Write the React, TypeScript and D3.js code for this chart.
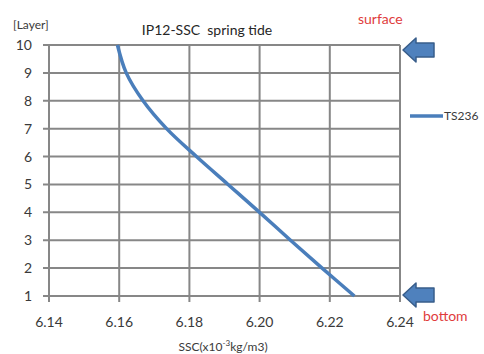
import React, { useEffect, useRef } from 'react';
import * as d3 from 'd3';

// layer 10 (surface) down to layer 1 (bottom)
const layers = [10, 9, 8, 7, 6, 5, 4, 3, 2, 1];
const sscValues = [6.1595, 6.162, 6.1668, 6.1735, 6.182, 6.191, 6.2, 6.2088, 6.2178, 6.227];
const xTicks = [6.14, 6.16, 6.18, 6.2, 6.22, 6.24];
const yTicks = [1, 2, 3, 4, 5, 6, 7, 8, 9, 10];
const seriesName = 'TS236';

const W = 484;
const H = 354;
const FONT = 'Lato, "Open Sans", sans-serif';

const App: React.FC = () => {
  const svgRef = useRef<SVGSVGElement>(null);

  useEffect(() => {
    if (!svgRef.current) return;
    const svg = d3.select(svgRef.current);
    svg.selectAll('*').remove();

    const margin = { left: 49, right: 84, top: 45, bottom: 58 };
    const innerW = W - margin.left - margin.right;
    const innerH = H - margin.top - margin.bottom;

    const x = d3.scaleLinear().domain([6.14, 6.24]).range([margin.left, margin.left + innerW]);
    const y = d3.scaleLinear().domain([1, 10]).range([margin.top + innerH, margin.top]);

    const gridColor = '#878787';
    const textColor = '#3a3a3a';

    // horizontal gridlines
    svg.append('g')
      .selectAll('line')
      .data(yTicks)
      .enter()
      .append('line')
      .attr('x1', x(6.14) - 6)
      .attr('x2', x(6.24))
      .attr('y1', d => y(d))
      .attr('y2', d => y(d))
      .attr('stroke', gridColor)
      .attr('stroke-width', 2);

    // vertical gridlines
    svg.append('g')
      .selectAll('line')
      .data(xTicks)
      .enter()
      .append('line')
      .attr('x1', d => x(d))
      .attr('x2', d => x(d))
      .attr('y1', y(10))
      .attr('y2', y(1) + 6)
      .attr('stroke', gridColor)
      .attr('stroke-width', 2);

    // y tick labels
    svg.append('g')
      .selectAll('text')
      .data(yTicks)
      .enter()
      .append('text')
      .attr('x', 32)
      .attr('y', d => y(d))
      .attr('dy', '0.36em')
      .attr('text-anchor', 'end')
      .attr('font-family', FONT)
      .attr('font-size', 14)
      .attr('fill', textColor)
      .text(d => String(d));

    // x tick labels
    svg.append('g')
      .selectAll('text')
      .data(xTicks)
      .enter()
      .append('text')
      .attr('x', d => x(d))
      .attr('y', 327)
      .attr('text-anchor', 'middle')
      .attr('font-family', FONT)
      .attr('font-size', 14)
      .attr('fill', textColor)
      .text(d => d3.format('.2f')(d));

    // series line
    const pts = layers.map((l, i) => ({ layer: l, v: sscValues[i] }));
    const line = d3.line<{ layer: number; v: number }>()
      .x(d => x(d.v))
      .y(d => y(d.layer))
      .curve(d3.curveCatmullRom.alpha(0.5));

    svg.append('path')
      .datum(pts)
      .attr('fill', 'none')
      .attr('stroke', '#4A7EBB')
      .attr('stroke-width', 3.5)
      .attr('d', line);

    // title
    svg.append('text')
      .attr('x', 207)
      .attr('y', 35)
      .attr('text-anchor', 'middle')
      .attr('font-family', FONT)
      .attr('font-size', 14)
      .attr('fill', '#262626')
      .attr('xml:space', 'preserve')
      .text('IP12-SSC  spring tide');

    svg.append('text')
      .attr('x', 13)
      .attr('y', 29)
      .attr('font-family', FONT)
      .attr('font-size', 12)
      .attr('fill', textColor)
      .text('[Layer]');

    // x axis title with superscript
    const xt = svg.append('text')
      .attr('x', 223)
      .attr('y', 351)
      .attr('text-anchor', 'middle')
      .attr('font-family', FONT)
      .attr('font-size', 12)
      .attr('fill', textColor);
    xt.append('tspan').text('SSC(x10');
    xt.append('tspan').attr('font-size', 8).attr('dy', -5).text('-3');
    xt.append('tspan').attr('dy', 5).text('kg/m3)');

    // legend
    svg.append('line')
      .attr('x1', 410)
      .attr('x2', 443)
      .attr('y1', 116)
      .attr('y2', 116)
      .attr('stroke', '#4A7EBB')
      .attr('stroke-width', 3.5);
    svg.append('text')
      .attr('x', 444)
      .attr('y', 116)
      .attr('dy', '0.35em')
      .attr('font-family', FONT)
      .attr('font-size', 12)
      .attr('fill', textColor)
      .text(seriesName);

    // surface / bottom annotations
    svg.append('text')
      .attr('x', 358)
      .attr('y', 24)
      .attr('font-family', FONT)
      .attr('font-size', 14)
      .attr('fill', '#E03C3C')
      .text('surface');
    svg.append('text')
      .attr('x', 423)
      .attr('y', 321)
      .attr('font-family', FONT)
      .attr('font-size', 14)
      .attr('fill', '#E03C3C')
      .text('bottom');

    // block arrows pointing left
    const arrow = (tipX: number, cy: number) => {
      const d = [
        [tipX, cy],
        [tipX + 13, cy - 12],
        [tipX + 13, cy - 7],
        [tipX + 31, cy - 7],
        [tipX + 31, cy + 7],
        [tipX + 13, cy + 7],
        [tipX + 13, cy + 12],
      ];
      svg.append('path')
        .attr('d', 'M' + d.map(p => p.join(',')).join('L') + 'Z')
        .attr('fill', '#4F81BD')
        .attr('stroke', '#385D8A')
        .attr('stroke-width', 1.5)
        .attr('stroke-linejoin', 'round');
    };
    arrow(403, 50);
    arrow(403, 295);
  }, []);

  return (
    <svg
      ref={svgRef}
      width={W}
      height={H}
      style={{ position: 'absolute', left: 0, top: 0, background: '#fff' }}
    />
  );
};

export default App;
